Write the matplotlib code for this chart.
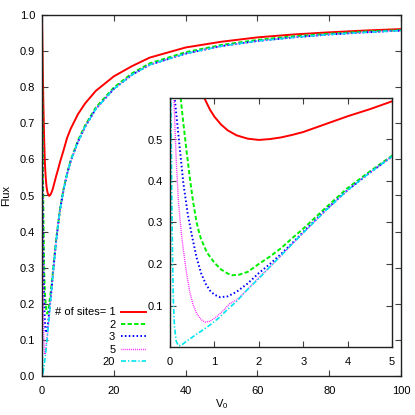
"""plot.py

    Flux versus V0 for different numbers of sites, with a zoomed inset.

    """
import matplotlib
matplotlib.use("Agg")
import matplotlib.pyplot as plt

plt.rcParams['font.family'] = ['Liberation Sans', 'DejaVu Sans']
plt.rcParams['font.size'] = 8
plt.rcParams['mathtext.fontset'] = 'custom'
plt.rcParams['mathtext.rm'] = 'Liberation Sans'
plt.rcParams['mathtext.it'] = 'Liberation Sans'

# values
v_site1 = [0, 0.1, 0.2, 0.3, 0.4, 0.5, 0.6, 0.75, 0.9, 1.0, 1.15, 1.3, 1.5, 1.75,
           2.0, 2.25, 2.5, 2.75, 3.0, 3.5, 4.0, 4.5, 5.0, 6, 7, 8, 10, 12, 15,
           20, 25, 30, 40, 50, 60, 70, 80, 90, 100]
f_site1 = [1.0, 0.93, 0.86, 0.8, 0.745, 0.70, 0.657, 0.605, 0.572, 0.555, 0.536, 0.522,
           0.51, 0.502, 0.499, 0.501, 0.505, 0.511, 0.518, 0.537, 0.556, 0.573, 0.592,
           0.625, 0.66, 0.685, 0.725, 0.755, 0.79, 0.83, 0.858, 0.882, 0.91, 0.926,
           0.938, 0.946, 0.952, 0.957, 0.961]

v_site2 = [0, 0.03, 0.06, 0.1, 0.15, 0.2, 0.24, 0.3, 0.375, 0.45, 0.52, 0.6, 0.65,
           0.7, 0.83, 1.0, 1.15, 1.3, 1.4, 1.55, 1.75, 2.0, 2.25, 2.5, 2.75, 3.0,
           3.5, 4.0, 4.5, 5.0, 6, 7, 8, 10, 12, 15, 20, 25, 30, 40, 50, 60, 70, 80,
           90, 100]
f_site2 = [1.0, 0.9, 0.83, 0.76, 0.69, 0.635, 0.6, 0.54, 0.47, 0.405, 0.35, 0.3,
           0.278, 0.26, 0.228, 0.203, 0.187, 0.177, 0.173, 0.174, 0.181, 0.2, 0.218,
           0.238, 0.262, 0.285, 0.335, 0.383, 0.423, 0.461, 0.518, 0.562, 0.598,
           0.652, 0.694, 0.744, 0.799, 0.838, 0.866, 0.897, 0.917, 0.931, 0.941,
           0.948, 0.954, 0.958]

v_site3 = [0, 0.03, 0.06, 0.11, 0.2, 0.3, 0.4, 0.5, 0.6, 0.7, 0.8, 0.9, 1.0, 1.13,
           1.3, 1.5, 1.75, 2.0, 2.25, 2.5, 2.75, 3.0, 3.5, 4.0, 4.5, 5.0, 6, 7, 8,
           10, 12, 15, 20, 25, 30, 40, 50, 60, 70, 80, 90, 100]
f_site3 = [1.0, 0.8, 0.7, 0.595, 0.50, 0.395, 0.32, 0.265, 0.215, 0.178, 0.153,
           0.136, 0.126, 0.12, 0.122, 0.133, 0.153, 0.178, 0.2, 0.224, 0.25, 0.277,
           0.33, 0.378, 0.42, 0.459, 0.515, 0.56, 0.595, 0.648, 0.69, 0.74, 0.795,
           0.834, 0.862, 0.893, 0.914, 0.928, 0.938, 0.946, 0.952, 0.957]

v_site5 = [0, 0.03, 0.09, 0.14, 0.19, 0.25, 0.3, 0.37, 0.45, 0.52, 0.6, 0.7, 0.79,
           0.9, 1.05, 1.2, 1.35, 1.5, 1.75, 2.0, 2.25, 2.5, 2.75, 3.0, 3.5, 4.0,
           4.5, 5.0, 6, 7, 8, 10, 12, 15, 20, 25, 30, 40, 50, 60, 70, 80, 90, 100]
f_site5 = [1.0, 0.8, 0.595, 0.45, 0.35, 0.28, 0.234, 0.18, 0.13, 0.102, 0.081,
           0.066, 0.06, 0.062, 0.073, 0.088, 0.105, 0.113, 0.139, 0.167, 0.193,
           0.22, 0.248, 0.275, 0.328, 0.378, 0.42, 0.459, 0.515, 0.56, 0.595, 0.648,
           0.69, 0.74, 0.795, 0.834, 0.862, 0.893, 0.914, 0.928, 0.938, 0.946,
           0.952, 0.957]

v_site20 = [0, 0.01, 0.02, 0.04, 0.06, 0.075, 0.1, 0.14, 0.19, 0.25, 0.3, 0.4, 0.52,
            0.7, 0.9, 1.1, 1.28, 1.5, 1.73, 2.0, 2.25, 2.5, 2.75, 3.0, 3.5, 4.0,
            4.5, 5.0, 6, 7, 8, 10, 12, 15, 20, 25, 30, 40, 50, 60, 70, 80, 90, 100]
f_site20 = [1.0, 0.75, 0.6, 0.354, 0.2, 0.113, 0.05, 0.014, 0.003, 0.004, 0.008,
            0.016, 0.025, 0.038, 0.053, 0.07, 0.089, 0.11, 0.137, 0.165, 0.193,
            0.22, 0.248, 0.275, 0.328, 0.378, 0.42, 0.459, 0.515, 0.56, 0.595,
            0.648, 0.69, 0.74, 0.795, 0.834, 0.862, 0.893, 0.914, 0.928, 0.938,
            0.946, 0.952, 0.957]

labels = ['# of sites= 1', '2', '3', '5', '20']
main_xticks = [0, 20, 40, 60, 80, 100]
main_yticks = [0.0, 0.1, 0.2, 0.3, 0.4, 0.5, 0.6, 0.7, 0.8, 0.9, 1.0]
inset_xticks = [0, 1, 2, 3, 4, 5]
inset_yticks = [0.1, 0.2, 0.3, 0.4, 0.5]

# gnuplot-like line styles
styles = [
    dict(color='#ff0000', lw=1.4, ls='-'),
    dict(color='#00ee00', lw=1.4, ls=(0, (2.2, 1.2))),
    dict(color='#0000ff', lw=1.4, ls=(0, (0.8, 1.2))),
    dict(color='#ff00ff', lw=1.0, ls=(0, (0.6, 0.8))),
    dict(color='#00e5ee', lw=1.2, ls=(0, (3.0, 1.2, 0.8, 1.2))),
]
series = [(v_site1, f_site1), (v_site2, f_site2), (v_site3, f_site3),
          (v_site5, f_site5), (v_site20, f_site20)]


def style_axes(ax):
    for sp in ax.spines.values():
        sp.set_linewidth(1.0)
        sp.set_color('#202020')
    ax.tick_params(direction='in', top=True, right=True, length=4,
                   width=0.8, color='#404040', pad=5)
    ax.tick_params(axis='x', pad=7)


fig = plt.figure(figsize=(4.15, 4.15), dpi=100)
ax = fig.add_axes([42/415, 39/415, 359/415, 361/415])
lines = []
for (v, f), st, lab in zip(series, styles, labels):
    ln, = ax.plot(v, f, label=lab, **st)
    lines.append(ln)
ax.set_xlim(0, 100)
ax.set_ylim(0, 1.0)
ax.set_xticks(main_xticks)
ax.set_yticks(main_yticks)
ax.set_yticklabels(['%.1f' % t for t in main_yticks])
ax.set_xlabel(r'V$_0$', labelpad=1)
ax.set_ylabel('Flux', labelpad=6)
style_axes(ax)

leg = ax.legend(handles=lines, loc='lower right', markerfirst=False,
                frameon=False, handlelength=2.3, handletextpad=0.5,
                labelspacing=0.22, borderaxespad=0.0,
                bbox_to_anchor=(0.303, 0.012))

# inset
axi = fig.add_axes([170/415, 68/415, 222/415, 249/415])
for (v, f), st in zip(series, styles):
    axi.plot(v, f, **st)
axi.set_xlim(0, 5)
axi.set_ylim(0, 0.6)
axi.set_xticks(inset_xticks)
axi.set_yticks(inset_yticks)
style_axes(axi)

fig.savefig('out.png', dpi=100)
